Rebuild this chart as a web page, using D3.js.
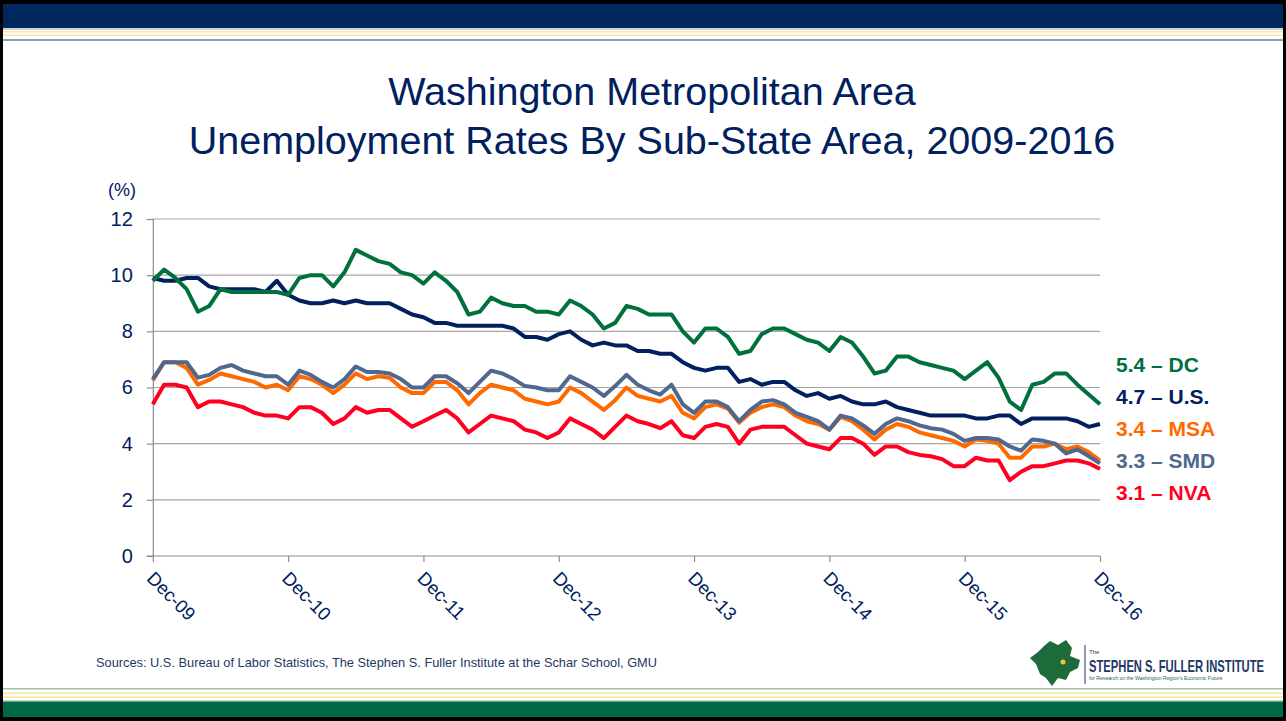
<!DOCTYPE html>
<html lang="en">
<head>
<meta charset="UTF-8">
<title>Washington Metropolitan Area Unemployment Rates</title>
<script src="https://d3js.org/d3.v7.min.js"></script>
<style>
body {
    margin: 0;
    background: #fff;
    font-family: "Liberation Sans", Arial, sans-serif;
}
svg { display: block; }
</style>
</head>
<body>
<svg id="chart" width="1286" height="721"></svg>
<script>
// monthly values, Dec-09 .. Dec-16 (85 months)
const dc = [9.8, 10.2, 9.9, 9.5, 8.7, 8.9, 9.5, 9.4, 9.4, 9.4, 9.4, 9.4, 9.3, 9.9, 10.0, 10.0, 9.6, 10.1, 10.9, 10.7, 10.5,
    10.4, 10.1, 10.0, 9.7, 10.1, 9.8, 9.4, 8.6, 8.7, 9.2, 9.0, 8.9, 8.9, 8.7, 8.7, 8.6, 9.1, 8.9, 8.6, 8.1, 8.3,
    8.9, 8.8, 8.6, 8.6, 8.6, 8.0, 7.6, 8.1, 8.1, 7.8, 7.2, 7.3, 7.9, 8.1, 8.1, 7.9, 7.7, 7.6, 7.3, 7.8, 7.6,
    7.1, 6.5, 6.6, 7.1, 7.1, 6.9, 6.8, 6.7, 6.6, 6.3, 6.6, 6.9, 6.35, 5.5, 5.2, 6.1, 6.2, 6.5, 6.5, 6.1, 5.75, 5.4];
const us = [9.9, 9.8, 9.8, 9.9, 9.9, 9.6, 9.5, 9.5, 9.5, 9.5, 9.4, 9.8, 9.3, 9.1, 9.0, 9.0, 9.1, 9.0, 9.1, 9.0, 9.0,
    9.0, 8.8, 8.6, 8.5, 8.3, 8.3, 8.2, 8.2, 8.2, 8.2, 8.2, 8.1, 7.8, 7.8, 7.7, 7.9, 8.0, 7.7, 7.5, 7.6, 7.5,
    7.5, 7.3, 7.3, 7.2, 7.2, 6.9, 6.7, 6.6, 6.7, 6.7, 6.2, 6.3, 6.1, 6.2, 6.2, 5.9, 5.7, 5.8, 5.6, 5.7, 5.5,
    5.4, 5.4, 5.5, 5.3, 5.2, 5.1, 5.0, 5.0, 5.0, 5.0, 4.9, 4.9, 5.0, 5.0, 4.7, 4.9, 4.9, 4.9, 4.9, 4.8, 4.6, 4.7];
const msa = [6.25, 6.9, 6.9, 6.7, 6.1, 6.27, 6.5, 6.4, 6.3, 6.2, 6.0, 6.1, 5.9, 6.4, 6.3, 6.1, 5.8, 6.1, 6.5, 6.3, 6.4,
    6.35, 6.0, 5.8, 5.8, 6.2, 6.2, 5.9, 5.4, 5.8, 6.1, 6.0, 5.9, 5.6, 5.5, 5.4, 5.5, 6.0, 5.8, 5.5, 5.2, 5.55,
    6.0, 5.7, 5.6, 5.5, 5.7, 5.1, 4.9, 5.3, 5.4, 5.25, 4.75, 5.1, 5.3, 5.4, 5.3, 5.0, 4.8, 4.7, 4.5, 4.95, 4.8,
    4.5, 4.15, 4.5, 4.7, 4.6, 4.4, 4.3, 4.2, 4.1, 3.9, 4.15, 4.1, 4.0, 3.5, 3.5, 3.9, 3.9, 4.0, 3.8, 3.9, 3.7, 3.4];
const smd = [6.3, 6.9, 6.9, 6.9, 6.35, 6.45, 6.7, 6.8, 6.6, 6.5, 6.4, 6.4, 6.1, 6.6, 6.45, 6.2, 6.0, 6.3, 6.75, 6.55, 6.55,
    6.5, 6.3, 6.0, 6.0, 6.4, 6.4, 6.15, 5.8, 6.2, 6.6, 6.5, 6.3, 6.05, 6.0, 5.9, 5.9, 6.4, 6.2, 6.0, 5.7, 6.05,
    6.45, 6.1, 5.9, 5.75, 6.1, 5.4, 5.1, 5.5, 5.5, 5.3, 4.8, 5.2, 5.5, 5.55, 5.4, 5.1, 4.95, 4.8, 4.5, 5.0, 4.9,
    4.65, 4.35, 4.7, 4.9, 4.8, 4.65, 4.55, 4.5, 4.35, 4.1, 4.2, 4.2, 4.15, 3.9, 3.75, 4.15, 4.1, 4.0, 3.65, 3.8, 3.55, 3.3];
const nva = [5.4, 6.1, 6.1, 6.0, 5.3, 5.5, 5.5, 5.4, 5.3, 5.1, 5.0, 5.0, 4.9, 5.3, 5.3, 5.1, 4.7, 4.9, 5.3, 5.1, 5.2,
    5.2, 4.9, 4.6, 4.8, 5.0, 5.2, 4.9, 4.4, 4.7, 5.0, 4.9, 4.8, 4.5, 4.4, 4.2, 4.4, 4.9, 4.7, 4.5, 4.2, 4.6,
    5.0, 4.8, 4.7, 4.55, 4.8, 4.3, 4.2, 4.6, 4.7, 4.6, 4.0, 4.5, 4.6, 4.6, 4.6, 4.3, 4.0, 3.9, 3.8, 4.2, 4.2,
    4.0, 3.6, 3.9, 3.9, 3.7, 3.6, 3.55, 3.45, 3.2, 3.2, 3.5, 3.4, 3.4, 2.7, 3.0, 3.2, 3.2, 3.3, 3.4, 3.4, 3.3, 3.1];

const tickLabels = ["Dec-09", "Dec-10", "Dec-11", "Dec-12", "Dec-13", "Dec-14", "Dec-15", "Dec-16"];
const yTicks = [0, 2, 4, 6, 8, 10, 12];

const seriesNames = ["U.S.", "DC", "MSA", "SMD", "NVA"];
const seriesValues = [us, dc, msa, smd, nva];
const seriesColors = ["#002060", "#00703c", "#ff6a00", "#50688e", "#ff0020"];

// labels at the right, top to bottom
const legendNames = ["DC", "U.S.", "MSA", "SMD", "NVA"];
const legendValues = ["5.4", "4.7", "3.4", "3.3", "3.1"];

const navy = "#002060";
const svg = d3.select("#chart");

// slide frame
svg.append("rect").attr("x", 0).attr("y", 0).attr("width", 1286).attr("height", 721).attr("fill", "#000");
svg.append("rect").attr("x", 3).attr("y", 4).attr("width", 1280).attr("height", 713).attr("fill", "#fff");
svg.append("rect").attr("x", 3).attr("y", 4).attr("width", 1280).attr("height", 24).attr("fill", "#00285e");
const topStripes = [[28, 2, "#c9d1dd"], [31, 1.5, "#ffe6a0"], [34.5, 1.5, "#ffe6a0"], [39, 2, "#8f9db3"]];
topStripes.forEach(s => svg.append("rect").attr("x", 3).attr("y", s[0]).attr("width", 1280).attr("height", s[1]).attr("fill", s[2]));
const botStripes = [[688, 1.5, "#9fc3b0"], [692.5, 1.5, "#ffe39a"], [696.5, 1.5, "#ffe39a"], [700, 1.5, "#c8d7cc"]];
botStripes.forEach(s => svg.append("rect").attr("x", 3).attr("y", s[0]).attr("width", 1280).attr("height", s[1]).attr("fill", s[2]));
svg.append("rect").attr("x", 3).attr("y", 701.5).attr("width", 1280).attr("height", 15.5).attr("fill", "#006a45");

// title
svg.append("text").attr("x", 652).attr("y", 105).attr("text-anchor", "middle")
    .attr("font-size", 39.5).attr("fill", navy).text("Washington Metropolitan Area");
svg.append("text").attr("x", 652).attr("y", 154).attr("text-anchor", "middle")
    .attr("font-size", 39.5).attr("fill", navy).text("Unemployment Rates By Sub-State Area, 2009-2016");

// scales
const x = d3.scaleLinear().domain([0, 84]).range([152.8, 1100]);
const y = d3.scaleLinear().domain([0, 12]).range([556, 219]);

// gridlines
svg.append("g")
    .selectAll("line")
    .data(yTicks.filter(d => d > 0))
    .join("line")
    .attr("x1", x(0)).attr("x2", x(84))
    .attr("y1", d => y(d)).attr("y2", d => y(d))
    .attr("stroke", "#a6a6a6").attr("stroke-width", 1.2);

// y axis
const yAxis = svg.append("g")
    .attr("transform", `translate(${x(0)},0)`)
    .call(d3.axisLeft(y).tickValues(yTicks).tickSize(6).tickPadding(14));
yAxis.select(".domain").attr("stroke", "#8c8c8c").attr("stroke-width", 1.2);
yAxis.selectAll(".tick line").attr("stroke", "#8c8c8c").attr("stroke-width", 1.2);
yAxis.selectAll(".tick text").attr("font-size", 20).attr("fill", navy)
    .attr("font-family", "Liberation Sans, Arial, sans-serif");

svg.append("text").attr("x", 122).attr("y", 196).attr("text-anchor", "middle")
    .attr("font-size", 18).attr("fill", navy).text("(%)");

// x axis
const xAxis = svg.append("g")
    .attr("transform", `translate(0,${y(0)})`)
    .call(d3.axisBottom(x).tickValues(d3.range(0, 85, 12))
        .tickFormat((d, i) => tickLabels[i]).tickSize(6).tickSizeOuter(0));
xAxis.select(".domain").attr("stroke", "#8c8c8c").attr("stroke-width", 1.2)
    .attr("d", `M${x(0) - 6},0H${x(84)}`);
xAxis.selectAll(".tick line").attr("stroke", "#8c8c8c").attr("stroke-width", 1.2);
xAxis.selectAll(".tick text")
    .attr("font-size", 18.5).attr("fill", navy)
    .attr("font-family", "Liberation Sans, Arial, sans-serif")
    .attr("text-anchor", "start")
    .attr("dy", "0.35em")
    .attr("transform", "translate(-3,19) rotate(45)")
    .attr("y", 0).attr("x", 0);

// lines
const line = d3.line()
    .x((d, i) => x(i))
    .y(d => y(d));

svg.append("g")
    .selectAll("path")
    .data(seriesValues)
    .join("path")
    .attr("d", d => line(d))
    .attr("fill", "none")
    .attr("stroke", (d, i) => seriesColors[i])
    .attr("stroke-width", 4)
    .attr("stroke-linejoin", "round");

// end labels
const legendY = d3.scalePoint().domain(legendNames).range([372, 500]);
svg.append("g")
    .selectAll("text")
    .data(legendNames)
    .join("text")
    .attr("x", 1116)
    .attr("y", d => legendY(d))
    .attr("font-size", 21)
    .attr("font-weight", "bold")
    .attr("fill", d => seriesColors[seriesNames.indexOf(d)])
    .text((d, i) => `${legendValues[i]} \u2013 ${d}`);

// source
svg.append("text").attr("x", 96).attr("y", 667)
    .attr("font-size", 13).attr("fill", "#1f3864")
    .attr("font-family", "Liberation Sans Narrow, Arial Narrow, Liberation Sans, sans-serif")
    .attr("textLength", 561).attr("lengthAdjust", "spacingAndGlyphs")
    .text("Sources: U.S. Bureau of Labor Statistics, The Stephen S. Fuller Institute at the Schar School, GMU");

// logo
const logo = svg.append("g");
logo.append("path")
    .attr("d", "M1050,641 L1058,645 L1066,640 L1072,648 L1070,656 L1080,660 L1078,668 L1070,672 L1066,680 L1058,678 L1052,686 L1046,678 L1040,674 L1036,664 L1030,658 L1038,652 L1044,646 Z")
    .attr("fill", "#1d6b3a");
logo.append("circle").attr("cx", 1063).attr("cy", 662).attr("r", 2.5).attr("fill", "#f2c530");
logo.append("line").attr("x1", 1085).attr("x2", 1085).attr("y1", 645).attr("y2", 684)
    .attr("stroke", "#1f3864").attr("stroke-width", 1);
logo.append("text").attr("x", 1089).attr("y", 654).attr("font-size", 6).attr("fill", "#1f3864").text("The");
logo.append("g").attr("transform", "translate(1089,672) scale(0.66,1)")
    .append("text")
    .attr("font-size", 17).attr("font-weight", "bold").attr("fill", "#1f3864")
    .text("STEPHEN S. FULLER INSTITUTE");
logo.append("g").attr("transform", "translate(1089,680) scale(0.85,1)")
    .append("text")
    .attr("font-size", 6).attr("fill", "#1d6b3a")
    .text("for Research on the Washington Region's Economic Future");
</script>
</body>
</html>
